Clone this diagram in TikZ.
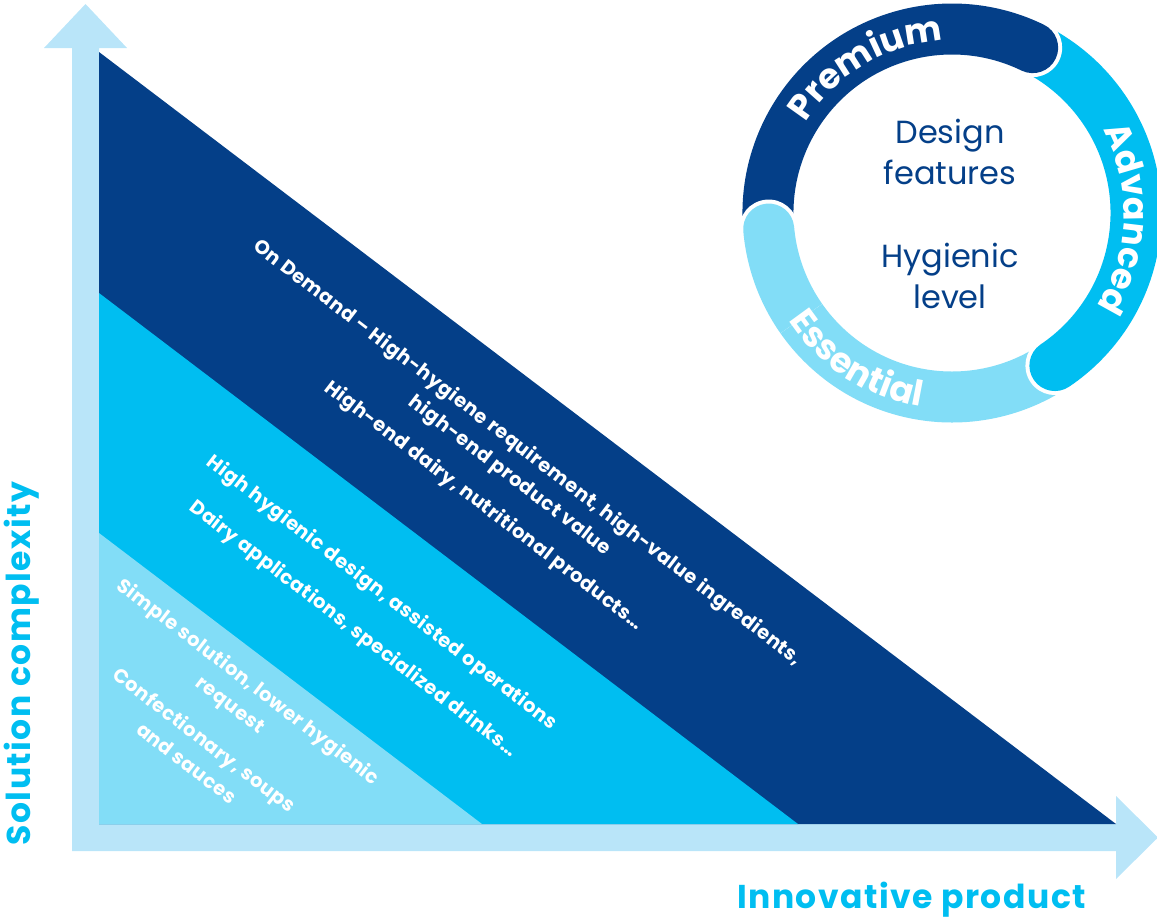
\documentclass[tikz,border=0pt]{standalone}
\usepackage{fontspec}
\setmainfont{Poppins}
\usetikzlibrary{decorations.text}
\definecolor{dk}{HTML}{043F88}
\definecolor{md}{HTML}{00BEF1}
\definecolor{lt}{HTML}{82DDF7}
\definecolor{ar}{HTML}{B9E5F9}
\newcommand\ringseg[3]{%
  \draw[white, line width=59pt, line cap=round] (952,-213) ++(#2:184) arc[start angle=#2, end angle=#3, radius=184];
  \draw[#1, line width=51pt, line cap=round] (952,-213) ++(#2:184) arc[start angle=#2, end angle=#3, radius=184];}
\begin{document}
\begin{tikzpicture}[x=1pt,y=1pt,
  band/.style={text=white, font=\bfseries\fontsize{19.5}{29}\selectfont\addfontfeatures{LetterSpace=2.5}, align=center, rotate=-37.5, inner sep=0pt},
  axislabel/.style={text=md, font=\bfseries\fontsize{33}{36}\selectfont\addfontfeatures{LetterSpace=4.5}, inner sep=0pt},
  innertxt/.style={text=dk, font=\fontsize{32}{41}\selectfont, align=center, inner sep=0pt},
  ringtxt/.style={decorate, decoration={text along path, text align=center, text color=white,
     text={|\bfseries\fontsize{35}{35}\selectfont|#1}}},
  ]
\useasboundingbox (0,0) rectangle (1157,-922);
% axes arrows
\fill[ar] (72,-851) -- (72,-48) -- (44,-48) -- (85.5,-4) -- (127,-48) -- (99,-48) -- (99,-824)
  -- (1116,-824) -- (1116,-796) -- (1158,-837.5) -- (1116,-879) -- (1116,-851) -- cycle;
% bands
\fill[dk] (99,-52) -- (1116,-824) -- (99,-824) -- cycle;
\fill[md] (99,-293) -- (798,-824) -- (99,-824) -- cycle;
\fill[lt] (99,-533) -- (482,-824) -- (99,-824) -- cycle;
% band texts
\node[band] (t1) at (518.5,-464.9) {On Demand – High-hygiene requirement, high-value ingredients,\\high-end product value};
\node[band] (t2) at (483.6,-506.3) {High-end dairy, nutritional products…};
\node[band] (t3) at (381.5,-593.4) {High hygienic design, assisted operations};
\node[band] (t4) at (353,-629.4) {Dairy applications, specialized drinks…};
\node[band] (t5) at (238.9,-694.4) {Simple solution, lower hygienic\\request};
\node[band] (t6) at (196,-750.9) {Confectionary, soups\\and sauces};
% axis labels
\node[axislabel, rotate=90] (ylab) at (22,-663.5) {Solution complexity};
\node[axislabel] (xlab) at (911.5,-900) {Innovative product};
% ring
\ringseg{lt}{-45}{-175}
\ringseg{md}{80}{-56}
\ringseg{dk}{195}{64}
\begin{scope}
  \clip (952,-213) -- ++(215:260) arc[start angle=215, end angle=165, radius=260] -- cycle;
  \ringseg{lt}{-45}{-175}
\end{scope}
\path[ringtxt=Premium] (952,-213) ++(180:172) arc[start angle=180, end angle=61, radius=172];
\path[ringtxt=Advanced] (952,-213) ++(58:172) arc[start angle=58, end angle=-62, radius=172];
\path[ringtxt=Essential] (952,-213) ++(177:196) arc[start angle=177, end angle=297, radius=196];
\node[innertxt] (df) at (950,-152) {Design\\features};
\node[innertxt] (hl) at (950,-276) {Hygienic\\level};
\end{tikzpicture}
\end{document}
